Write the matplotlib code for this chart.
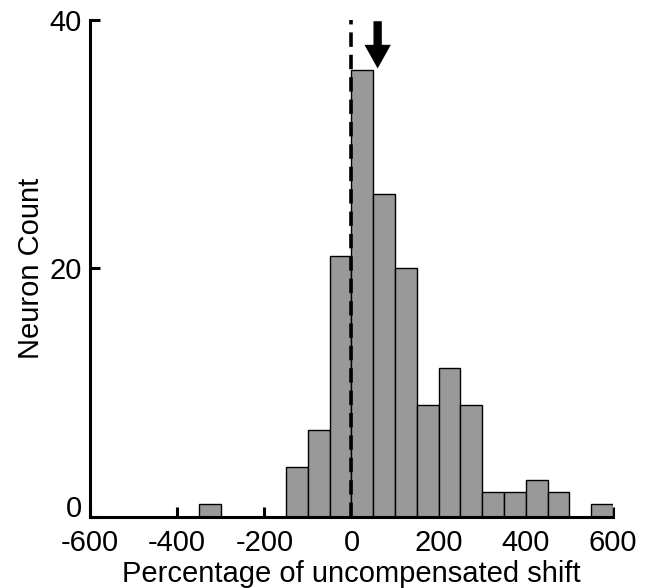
import numpy as np
import matplotlib.pyplot as plt
import matplotlib.transforms as mtransforms

plt.rcParams['font.family'] = ['Liberation Sans', 'DejaVu Sans']
plt.rcParams['axes.unicode_minus'] = False

# histogram bins (left edges, width 50) and neuron counts
bin_left = [-350, -300, -250, -200, -150, -100, -50, 0, 50, 100, 150,
            200, 250, 300, 350, 400, 450, 500, 550]
counts = [1, 0, 0, 0, 4, 7, 21, 36, 26, 20, 9, 12, 9, 2, 2, 3, 2, 0, 1]
bin_width = 50
arrow_x = 60
xticks = [-600, -400, -200, 0, 200, 400, 600]
yticks = [0, 20, 40]

fig = plt.figure(figsize=(6.57, 5.88), dpi=100)
ax = fig.add_axes([0.137, 0.121, 0.796, 0.845])

ax.bar(bin_left, counts, width=bin_width, align='edge',
       color='#999999', edgecolor='black', linewidth=1.0, zorder=2)

ax.plot([0, 0], [0, 40], color='black', linestyle=(0, (4, 2.2)),
        linewidth=2.6, zorder=3, clip_on=False)

# mean marker arrow
ax.annotate('', xy=(arrow_x, 36.1), xytext=(arrow_x, 39.9),
            arrowprops=dict(width=6, headwidth=19, headlength=17,
                            facecolor='black', edgecolor='black', lw=0,
                            shrink=0),
            annotation_clip=False)

ax.set_xlim(-600, 600)
ax.set_ylim(0, 40)
ax.set_xticks(xticks)
ax.set_yticks(yticks)
ax.spines['top'].set_visible(False)
ax.spines['right'].set_visible(False)
ax.spines['left'].set_linewidth(2.2)
ax.spines['bottom'].set_linewidth(2.2)
ax.tick_params(direction='in', length=7, width=2.2, labelsize=21)
ax.tick_params(axis='x', pad=9)
ax.tick_params(axis='y', pad=6)

# reference lifts the "0" count label a little above the axis line
lbl0 = ax.get_yticklabels()[0]
lbl0.set_transform(lbl0.get_transform() +
                   mtransforms.ScaledTranslation(0, 8 / 72, fig.dpi_scale_trans))

ax.set_xlabel('Percentage of uncompensated shift', fontsize=21, labelpad=2)
ax.set_ylabel('Neuron Count', fontsize=21, labelpad=3)

fig.savefig('out.png', dpi=100)
